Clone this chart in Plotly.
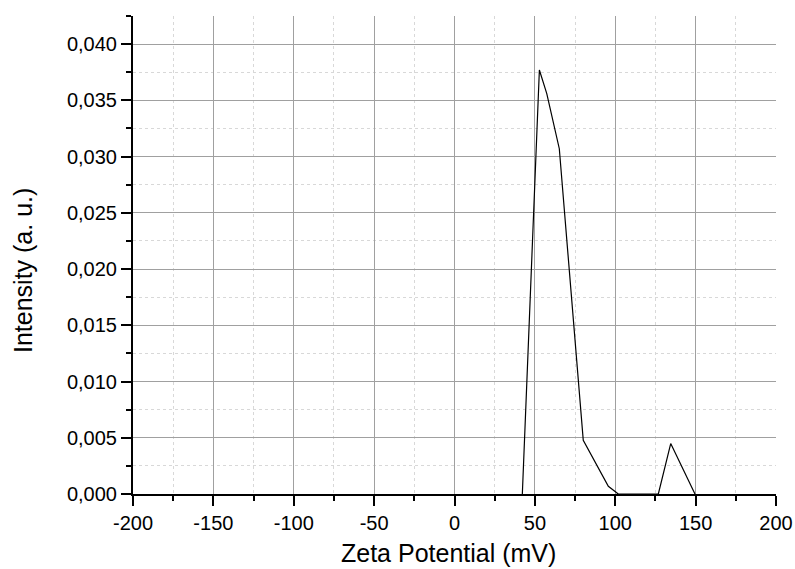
import plotly.graph_objects as go

# Zeta potential distribution
zeta_mv = [42.2, 51.5, 52.8, 57.4, 65.2, 80.1, 95.7, 101.9, 126.8, 134.5, 149.6]
intensity = [0.0, 0.0344, 0.0377, 0.0356, 0.0307, 0.00478, 0.00068, 0.0, 0.0, 0.00448, 0.0]

x_ticks = [-200, -150, -100, -50, 0, 50, 100, 150, 200]
x_labels = [str(v) for v in x_ticks]
y_ticks = [0.0, 0.005, 0.010, 0.015, 0.020, 0.025, 0.030, 0.035, 0.040]

font_family = "Liberation Sans, Arial, sans-serif"
tick_font = dict(size=20, color="black", family=font_family)
title_font = dict(size=25, color="black", family=font_family)

fig = go.Figure()
fig.add_trace(go.Scatter(
    x=zeta_mv, y=intensity, mode="lines",
    line=dict(color="black", width=1.2),
    showlegend=False,
))

axis_common = dict(
    showline=True, linecolor="black", linewidth=2,
    ticks="outside", ticklen=10, tickwidth=2, tickcolor="black",
    showgrid=True, gridcolor="#a0a0a0", gridwidth=1,
    zeroline=False, automargin=False,
    tickfont=tick_font,
)

fig.update_xaxes(
    range=[-200, 200], tickvals=x_ticks, ticktext=x_labels,
    minor=dict(dtick=25, ticks="outside", ticklen=5, tickwidth=2, tickcolor="black",
               showgrid=True, gridcolor="#d8d8d8", griddash="dot", gridwidth=1),
    **axis_common,
)
fig.update_yaxes(
    range=[0, 0.0425], tickvals=y_ticks, tickformat=".3f",
    minor=dict(dtick=0.0025, ticks="outside", ticklen=5, tickwidth=2, tickcolor="black",
               showgrid=True, gridcolor="#d8d8d8", griddash="dot", gridwidth=1),
    **axis_common,
)

# Axis titles
fig.add_annotation(
    text="Zeta Potential (mV)", font=title_font,
    xref="paper", yref="paper", x=0.4914, y=0,
    xanchor="center", yanchor="middle", yshift=-59, showarrow=False,
)
fig.add_annotation(
    text="Intensity (a. u.)", textangle=-90, font=title_font,
    xref="paper", yref="paper", x=0, y=0.5,
    xanchor="center", yanchor="middle", xshift=-110, yshift=-16, showarrow=False,
)

fig.update_layout(
    width=795, height=569,
    margin=dict(l=133, r=19, t=16, b=75),
    paper_bgcolor="white", plot_bgcolor="white",
    separators=",.",
    font=dict(family=font_family, color="black"),
)

fig.write_html("out.html")
